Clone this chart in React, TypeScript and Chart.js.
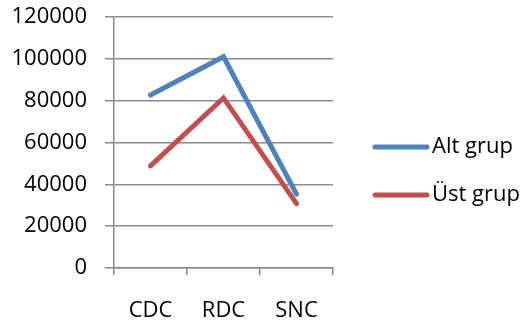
import React, { useEffect, useRef } from "react";
import { Chart, registerables } from "chart.js";

Chart.register(...registerables);

const categories = ["CDC", "RDC", "SNC"];
const altGrup = [82700, 101000, 35300];
const ustGrup = [48800, 81300, 30800];
const seriesNames = ["Alt grup", "Üst grup"];
const seriesColors = ["#4F81BD", "#C0504D"];

const FONT = "'Open Sans', 'Noto Sans', sans-serif";
const GRID = "#898989";

// Legend drawn as line swatches to the right of the plot
const sideLegend = {
  id: "sideLegend",
  afterDraw(chart: Chart) {
    const ctx = chart.ctx;
    const rows = [147, 195];
    ctx.save();
    chart.data.datasets.forEach((ds: any, i: number) => {
      const y = rows[i];
      ctx.strokeStyle = ds.borderColor;
      ctx.lineWidth = 5;
      ctx.lineCap = "round";
      ctx.beginPath();
      ctx.moveTo(375, y);
      ctx.lineTo(427, y);
      ctx.stroke();
      ctx.fillStyle = "#000";
      ctx.font = `22px ${FONT}`;
      ctx.textBaseline = "middle";
      ctx.textAlign = "left";
      ctx.fillText(ds.label, 432, y);
    });
    ctx.restore();
  },
};

export default function App() {
  const ref = useRef<HTMLCanvasElement | null>(null);

  useEffect(() => {
    if (!ref.current) return;
    const chart = new Chart(ref.current, {
      type: "line",
      data: {
        labels: categories,
        datasets: [
          {
            label: seriesNames[0],
            data: altGrup,
            borderColor: seriesColors[0],
            backgroundColor: seriesColors[0],
            borderWidth: 5,
            borderCapStyle: "round",
            borderJoinStyle: "miter",
            pointRadius: 0,
            tension: 0,
          },
          {
            label: seriesNames[1],
            data: ustGrup,
            borderColor: seriesColors[1],
            backgroundColor: seriesColors[1],
            borderWidth: 5,
            borderCapStyle: "round",
            borderJoinStyle: "miter",
            pointRadius: 0,
            tension: 0,
          },
        ],
      },
      options: {
        animation: false,
        responsive: false,
        maintainAspectRatio: false,
        layout: { padding: { top: 17, right: 191, bottom: 0, left: 0 } },
        plugins: {
          legend: { display: false },
          tooltip: { enabled: false },
        },
        scales: {
          x: {
            offset: true,
            grid: {
              display: true,
              offset: true,
              drawOnChartArea: false,
              drawTicks: true,
              tickLength: 7,
              color: GRID,
              lineWidth: 1.5,
            },
            border: { display: true, color: GRID, width: 1.5 },
            ticks: {
              color: "#000",
              font: { family: FONT, size: 22 },
              padding: 23,
            },
            afterFit(scale: any) {
              scale.height = 56;
              scale.paddingLeft = 0;
              scale.paddingRight = 0;
            },
          },
          y: {
            min: 0,
            max: 120000,
            ticks: {
              stepSize: 20000,
              color: "#000",
              font: { family: FONT, size: 22 },
              padding: 18,
              callback: (v: any) => String(v),
            },
            grid: {
              color: GRID,
              lineWidth: 1.5,
              tickLength: 9,
            },
            border: { display: true, color: GRID, width: 1.5 },
            afterFit(scale: any) {
              scale.width = 114;
              scale.paddingTop = 0;
              scale.paddingBottom = 0;
            },
          },
        },
      },
      plugins: [sideLegend],
    });
    return () => chart.destroy();
  }, []);

  return (
    <div style={{ position: "fixed", left: 0, top: 0, width: 524, height: 324, background: "#fff" }}>
      <canvas ref={ref} width={524} height={324} style={{ width: 524, height: 324 }} />
    </div>
  );
}
